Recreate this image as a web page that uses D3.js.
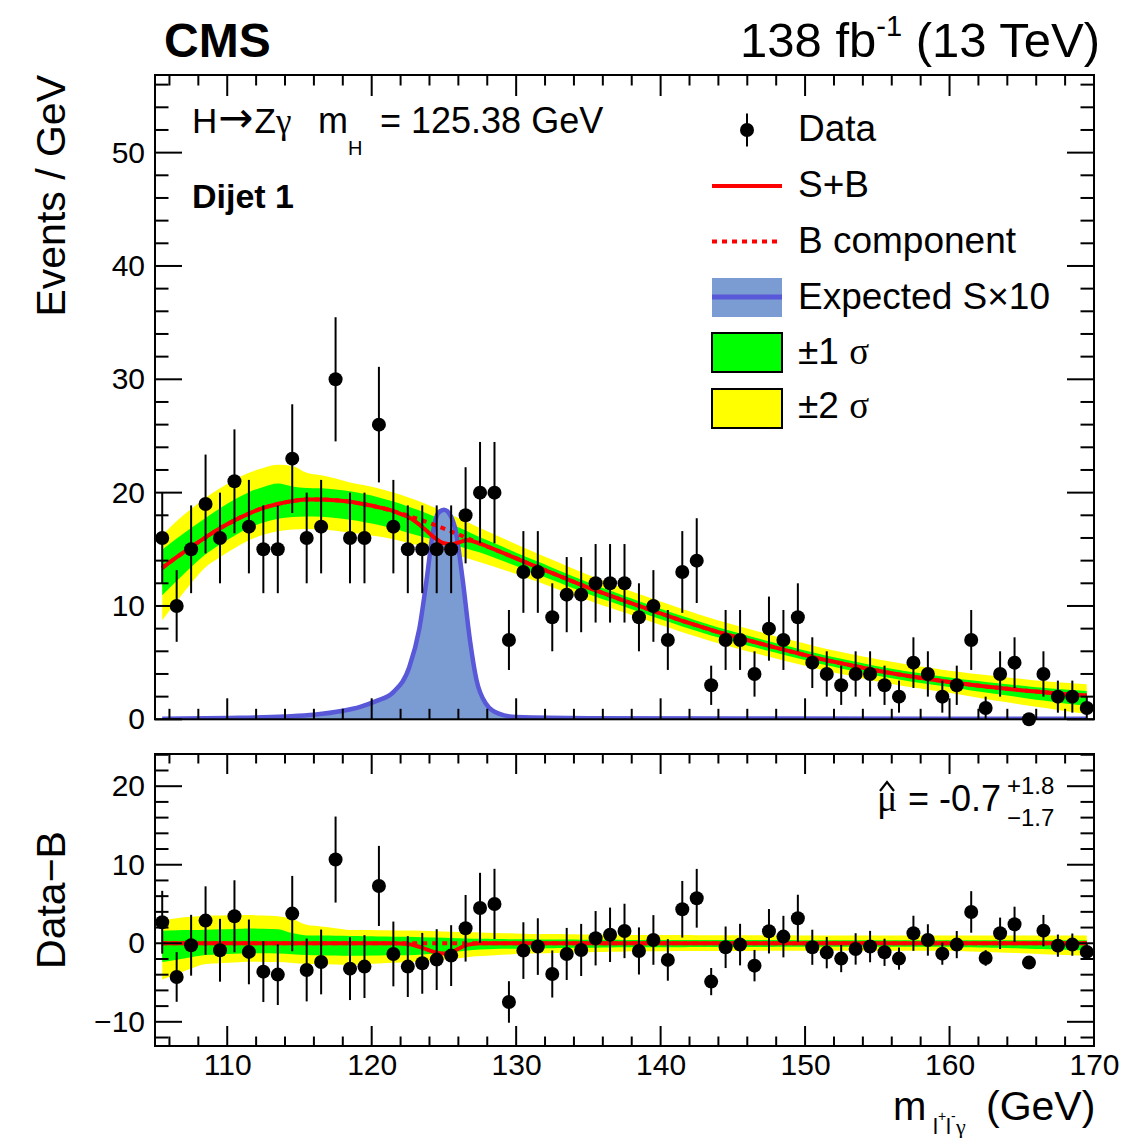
<!DOCTYPE html>
<html><head><meta charset="utf-8">
<script src="https://cdn.jsdelivr.net/npm/d3@7"></script>
<style>
body{margin:0;background:#fff}
svg{display:block}
text{font-family:"Liberation Sans",Arial,Helvetica,sans-serif;fill:#000}
.serif{font-family:"Liberation Serif","DejaVu Serif",serif}
</style>
</head><body>
<svg id="c" width="1127" height="1138"></svg>
<script>
// ---------------- data ----------------
const binCenters = [105.5,106.5,107.5,108.5,109.5,110.5,111.5,112.5,113.5,114.5,
  115.5,116.5,117.5,118.5,119.5,120.5,121.5,122.5,123.5,124.5,
  125.5,126.5,127.5,128.5,129.5,130.5,131.5,132.5,133.5,134.5,
  135.5,136.5,137.5,138.5,139.5,140.5,141.5,142.5,143.5,144.5,
  145.5,146.5,147.5,148.5,149.5,150.5,151.5,152.5,153.5,154.5,
  155.5,156.5,157.5,158.5,159.5,160.5,161.5,162.5,163.5,164.5,
  165.5,166.5,167.5,168.5,169.5];
const dataCounts = [16,10,15,19,16,21,17,15,15,23,
  16,17,30,16,16,26,17,15,15,15,
  15,18,20,20,7,13,13,9,11,11,
  12,12,12,9,10,7,13,14,3,7,
  7,4,8,7,9,5,4,3,4,4,
  3,2,5,4,2,3,7,1,4,5,
  0,4,2,2,1];
const residuals = [2.68,-4.29,-0.25,2.89,-0.89,3.44,-1.10,-3.61,-3.99,3.78,
  -3.40,-2.38,10.66,-3.23,-2.97,7.30,-1.36,-2.97,-2.55,-2.08,
  -1.57,1.91,4.50,5.01,-7.47,-0.93,-0.42,-3.91,-1.36,-0.85,
  0.64,1.08,1.57,-0.98,0.42,-2.12,4.33,5.73,-4.88,-0.51,
  -0.17,-2.85,1.53,0.85,3.18,-0.51,-1.19,-1.95,-0.72,-0.42,
  -1.15,-1.95,1.27,0.42,-1.32,-0.17,3.99,-1.87,1.27,2.42,
  -2.46,1.61,-0.30,-0.17,-1.10];
// background component at bin centers
const bkg = [13.35,14.3,15.2,16.05,16.85,17.55,18.15,18.65,19.0,19.25,
  19.4,19.4,19.33,19.2,18.97,18.7,18.37,17.97,17.55,17.08,
  16.57,16.05,15.5,14.99,14.47,13.93,13.42,12.9,12.38,11.87,
  11.38,10.92,10.45,10.0,9.56,9.12,8.69,8.28,7.88,7.51,
  7.16,6.82,6.48,6.15,5.83,5.51,5.21,4.94,4.68,4.42,
  4.18,3.96,3.75,3.56,3.38,3.21,3.05,2.9,2.76,2.63,
  2.5,2.39,2.28,2.18,2.09];
// S+B curve where it departs from B (upper panel)
const sbDipX = [121.5,122.0,122.6,123.1,123.6,124.3,125.0,125.55,126.0,126.6,127.5];
const sbDipY = [18.37,18.12,17.8,17.37,16.86,16.08,15.53,15.45,15.6,15.8,15.5];
// S+B - B (lower panel)
const dipX = [105.5,121.5,122.6,123.6,124.3,125.0,125.55,126.0,126.6,127.5,169.5];
const dipY = [0,0,-0.13,-0.64,-1.1,-1.3,-1.1,-0.7,-0.2,0,0];
// expected signal x10
const sigX = [105.5,110,114,116,118,119.2,120.3,121.5,122.6,123.3,123.8,124.25,124.6,125.0,125.4,125.8,126.3,126.8,127.25,127.9,128.8,130,135,145,160,169.5];
const sigY = [0.05,0.12,0.25,0.4,0.75,1.1,1.6,2.4,4.6,8.0,12.3,16.6,18.2,18.5,18.1,16.7,12.3,7.0,3.5,1.4,0.5,0.2,0.1,0.07,0.05,0.04];
// uncertainty band offsets (relative to B)
const bandX = [105.5,106.5,108.3,111.6,113.5,114.5,115.5,118.5,123.1,127.7,131,137.8,150,160,164,169.5];
const band2Up = [2.9,3.2,3.5,3.6,3.45,3.1,2.35,1.7,1.6,1.36,1.2,1.06,1.0,1.0,1.0,1.0];
const band2Dn = [-4.6,-3.9,-2.65,-2.35,-2.4,-2.5,-2.6,-2.75,-2.35,-1.6,-1.3,-1.02,-0.95,-0.95,-1.2,-1.6];
const band1Up = [1.6,1.65,1.7,1.9,1.8,1.3,1.0,0.93,0.8,0.55,0.5,0.42,0.4,0.4,0.4,0.4];
const band1Dn = [-2.4,-2.1,-1.5,-1.27,-1.3,-1.4,-1.5,-1.6,-1.5,-0.76,-0.65,-0.51,-0.45,-0.45,-0.6,-0.9];
// axis ticks
const xMajor = [110,120,130,140,150,160,170];
const xMinor = [106,108,112,114,116,118,122,124,126,128,132,134,136,138,142,144,146,148,152,154,156,158,162,164,166,168];
const yUMajor = [0,10,20,30,40,50];
const yUMinor = [2,4,6,8,12,14,16,18,22,24,26,28,32,34,36,38,42,44,46,48,52,54,56];
const yLMajor = [-10,0,10,20];
const yLMinor = [-12,-8,-6,-4,-2,2,4,6,8,12,14,16,18,22,24];

// ---------------- colours ----------------
const C = {yellow:"#ffff00", green:"#00ff00", red:"#ff0000", sigFill:"#7b9bd3", sigLine:"#5858d8"};

// ---------------- layout ----------------
const svg = d3.select("#c");
const L = 155, R = 1094;
const U = {top:75, bot:719.3}, D = {top:754, bot:1046};
const x = d3.scaleLinear().domain([105,170]).range([L,R]);
const yU = d3.scaleLinear().domain([0,56.85]).range([U.bot,U.top]);
const yL = d3.scaleLinear().domain([-13.08,24.1]).range([D.bot,D.top]);

const defs = svg.append("defs");
defs.append("clipPath").attr("id","clipU").append("rect").attr("x",L).attr("y",U.top).attr("width",R-L).attr("height",U.bot-U.top);
defs.append("clipPath").attr("id","clipL").append("rect").attr("x",L).attr("y",D.top).attr("width",R-L).attr("height",D.bot-D.top);

const off = arr => d3.scaleLinear().domain(bandX).range(arr);
const o2u = off(band2Up), o2d = off(band2Dn), o1u = off(band1Up), o1d = off(band1Dn);
const rows = binCenters.map((m,i)=>({m, b:bkg[i], n:dataCounts[i], r:residuals[i]}));

// ---------------- upper panel ----------------
const gU = svg.append("g").attr("clip-path","url(#clipU)");
const areaU = (fu,fd) => d3.area().x(d=>x(d.m)).y0(d=>yU(d.b+fd(d.m))).y1(d=>yU(d.b+fu(d.m))).curve(d3.curveMonotoneX);
gU.append("path").datum(rows).attr("d",areaU(o2u,o2d)).attr("fill",C.yellow);
gU.append("path").datum(rows).attr("d",areaU(o1u,o1d)).attr("fill",C.green);

const sig = sigX.map((m,i)=>({m, v:sigY[i]}));
gU.append("path").datum(sig).attr("d",d3.area().x(d=>x(d.m)).y0(yU(0)).y1(d=>yU(d.v)).curve(d3.curveMonotoneX)).attr("fill",C.sigFill);
gU.append("path").datum(sig).attr("d",d3.line().x(d=>x(d.m)).y(d=>yU(d.v)).curve(d3.curveMonotoneX)).attr("fill","none").attr("stroke",C.sigLine).attr("stroke-width",4.5);

// S+B
const sbPts = rows.filter(d=>d.m<sbDipX[0]||d.m>sbDipX[sbDipX.length-1]).map(d=>({m:d.m,v:d.b}))
  .concat(sbDipX.map((m,i)=>({m,v:sbDipY[i]}))).sort((a,b)=>a.m-b.m);
const lineU = d3.line().x(d=>x(d.m)).y(d=>yU(d.v)).curve(d3.curveMonotoneX);
gU.append("path").datum(rows.map(d=>({m:d.m,v:d.b}))).attr("d",lineU).attr("fill","none").attr("stroke",C.red).attr("stroke-width",4).attr("stroke-dasharray","5,5");
gU.append("path").datum(sbPts).attr("d",lineU).attr("fill","none").attr("stroke",C.red).attr("stroke-width",4);

// ---------------- lower panel ----------------
const gL = svg.append("g").attr("clip-path","url(#clipL)");
const areaL = (fu,fd) => d3.area().x(d=>x(d.m)).y0(d=>yL(fd(d.m))).y1(d=>yL(fu(d.m))).curve(d3.curveMonotoneX);
gL.append("path").datum(rows).attr("d",areaL(o2u,o2d)).attr("fill",C.yellow);
gL.append("path").datum(rows).attr("d",areaL(o1u,o1d)).attr("fill",C.green);
const lineL = d3.line().x(d=>x(d.m)).y(d=>yL(d.v)).curve(d3.curveMonotoneX);
gL.append("path").datum([{m:105.5,v:0},{m:169.5,v:0}]).attr("d",lineL).attr("fill","none").attr("stroke",C.red).attr("stroke-width",4).attr("stroke-dasharray","5,5");
gL.append("path").datum(dipX.map((m,i)=>({m,v:dipY[i]}))).attr("d",lineL).attr("fill","none").attr("stroke",C.red).attr("stroke-width",4);

// ---------------- frames & axes ----------------
function frame(top,bot){
  svg.append("rect").attr("x",L).attr("y",top).attr("width",R-L).attr("height",bot-top)
    .attr("fill","none").attr("stroke","#000").attr("stroke-width",2);
}
frame(U.top,U.bot); frame(D.top,D.bot);

function ticksX(yPos, dir, len, vals){ // dir: -1 up, +1 down
  svg.append("g").selectAll("line").data(vals).join("line")
    .attr("x1",d=>x(d)).attr("x2",d=>x(d)).attr("y1",yPos).attr("y2",yPos+dir*len)
    .attr("stroke","#000").attr("stroke-width",2);
}
function ticksY(y, xPos, dir, len, vals){
  svg.append("g").selectAll("line").data(vals).join("line")
    .attr("y1",d=>y(d)).attr("y2",d=>y(d)).attr("x1",xPos).attr("x2",xPos+dir*len)
    .attr("stroke","#000").attr("stroke-width",2);
}
// upper
ticksX(U.bot,-1,21,xMajor); ticksX(U.bot,-1,10.5,xMinor);
ticksX(U.top,1,21,xMajor); ticksX(U.top,1,10.5,xMinor);
ticksY(yU,L,1,27,yUMajor); ticksY(yU,L,1,13.5,yUMinor);
ticksY(yU,R,-1,27,yUMajor); ticksY(yU,R,-1,13.5,yUMinor);
// lower
ticksX(D.bot,-1,20,xMajor); ticksX(D.bot,-1,9.5,xMinor);
ticksX(D.top,1,20,xMajor); ticksX(D.top,1,9.5,xMinor);
ticksY(yL,L,1,27,yLMajor); ticksY(yL,L,1,13.5,yLMinor);
ticksY(yL,R,-1,27,yLMajor); ticksY(yL,R,-1,13.5,yLMinor);

// tick labels through d3 axes (no tick lines)
const fmt = d3.format("d");
const axU = svg.append("g").attr("transform",`translate(${L},0)`)
  .call(d3.axisLeft(yU).tickValues(yUMajor).tickSize(0).tickPadding(10).tickFormat(fmt));
const axL = svg.append("g").attr("transform",`translate(${L},0)`)
  .call(d3.axisLeft(yL).tickValues(yLMajor).tickSize(0).tickPadding(10).tickFormat(fmt));
const axX = svg.append("g").attr("transform",`translate(0,${D.bot})`)
  .call(d3.axisBottom(x).tickValues(xMajor).tickSize(0).tickPadding(8).tickFormat(fmt));
[axU,axL,axX].forEach(a=>{a.select(".domain").remove();
  a.selectAll("text").attr("font-size",30).attr("font-family","'Liberation Sans',Arial,sans-serif").attr("fill","#000");});

// ---------------- data points ----------------
function points(yS, valFn){
  const gp = svg.append("g");
  gp.selectAll("line").data(rows.filter(d=>d.n>0)).join("line")
    .attr("x1",d=>x(d.m)).attr("x2",d=>x(d.m))
    .attr("y1",d=>yS(valFn(d)-Math.sqrt(d.n))).attr("y2",d=>yS(valFn(d)+Math.sqrt(d.n)))
    .attr("stroke","#000").attr("stroke-width",2);
  gp.selectAll("circle").data(rows).join("circle")
    .attr("cx",d=>x(d.m)).attr("cy",d=>yS(valFn(d))).attr("r",7).attr("fill","#000");
}
points(yU, d=>d.n);
points(yL, d=>d.r);

// ---------------- legend ----------------
const lg = svg.append("g");
const lx0 = 712, lx1 = 782, tx = 798;
lg.append("line").attr("x1",747).attr("x2",747).attr("y1",113.5).attr("y2",146.5).attr("stroke","#000").attr("stroke-width",2);
lg.append("circle").attr("cx",747).attr("cy",130).attr("r",7).attr("fill","#000");
lg.append("line").attr("x1",lx0).attr("x2",lx1).attr("y1",186).attr("y2",186).attr("stroke",C.red).attr("stroke-width",4);
lg.append("line").attr("x1",lx0).attr("x2",lx1).attr("y1",241.5).attr("y2",241.5).attr("stroke",C.red).attr("stroke-width",4).attr("stroke-dasharray","5,5");
lg.append("rect").attr("x",lx0).attr("y",278).attr("width",lx1-lx0).attr("height",39).attr("fill",C.sigFill);
lg.append("line").attr("x1",lx0).attr("x2",lx1).attr("y1",297).attr("y2",297).attr("stroke",C.sigLine).attr("stroke-width",5);
lg.append("rect").attr("x",lx0).attr("y",333).attr("width",lx1-lx0).attr("height",39).attr("fill",C.green).attr("stroke","#000").attr("stroke-width",2);
lg.append("rect").attr("x",lx0).attr("y",389).attr("width",lx1-lx0).attr("height",39).attr("fill",C.yellow).attr("stroke","#000").attr("stroke-width",2);
const lt = (y,s)=>lg.append("text").attr("x",tx).attr("y",y).attr("font-size",37).text(s);
lt(141,"Data"); lt(197,"S+B"); lt(253,"B component"); lt(309,"Expected S\u00d710");
const s1 = lg.append("text").attr("x",tx).attr("y",364).attr("font-size",37);
s1.append("tspan").text("\u00b11 "); s1.append("tspan").attr("class","serif").text("\u03c3");
const s2 = lg.append("text").attr("x",tx).attr("y",418).attr("font-size",37);
s2.append("tspan").text("\u00b12 "); s2.append("tspan").attr("class","serif").text("\u03c3");

// ---------------- texts ----------------
svg.append("text").attr("x",164).attr("y",57).attr("font-size",48).attr("font-weight","bold").text("CMS");
const lumi = svg.append("text").attr("x",1100).attr("y",57).attr("font-size",49).attr("text-anchor","end");
lumi.append("tspan").text("138 fb");
lumi.append("tspan").attr("font-size",29).attr("dy",-21).text("-1");
lumi.append("tspan").attr("dy",21).text(" (13 TeV)");

const t1 = svg.append("text").attr("x",192).attr("y",133).attr("font-size",35);
t1.append("tspan").text("H");
t1.append("tspan").attr("font-family","'DejaVu Sans',sans-serif").attr("font-size",42).attr("dx",1).attr("dy",-1).text("\u2192");
t1.append("tspan").attr("dx",1).attr("dy",1).text("Z");
t1.append("tspan").attr("class","serif").text("\u03b3");
svg.append("text").attr("x",318).attr("y",133).attr("font-size",36).text("m");
svg.append("text").attr("x",348).attr("y",155).attr("font-size",20).text("H");
svg.append("text").attr("x",380).attr("y",133).attr("font-size",36).text("= 125.38 GeV");
svg.append("text").attr("x",192).attr("y",208).attr("font-size",34).attr("font-weight","bold").text("Dijet 1");

// y titles
svg.append("text").attr("transform","translate(65,75) rotate(-90)").attr("text-anchor","end").attr("font-size",41).text("Events / GeV");
svg.append("text").attr("transform","translate(65,900) rotate(-90)").attr("text-anchor","middle").attr("font-size",41).text("Data\u2212B");

// x title
svg.append("text").attr("x",893).attr("y",1120).attr("font-size",40).text("m");
svg.append("text").attr("x",933).attr("y",1134).attr("font-size",22).text("l");
svg.append("text").attr("x",938).attr("y",1121).attr("font-size",14).text("+");
svg.append("text").attr("x",946).attr("y",1134).attr("font-size",22).text("l");
svg.append("text").attr("x",951).attr("y",1121).attr("font-size",14).text("-");
svg.append("text").attr("x",956).attr("y",1134).attr("font-size",22).attr("class","serif").text("\u03b3");
svg.append("text").attr("x",986).attr("y",1120).attr("font-size",41).text("(GeV)");

// mu hat: mu as text, circumflex accent drawn above it
svg.append("text").attr("x",877).attr("y",811).attr("font-size",38).attr("class","serif").text("\u03bc");
svg.append("path").attr("d","M880,791 L887,782 L894,791").attr("fill","none").attr("stroke","#000").attr("stroke-width",2.2);
svg.append("text").attr("x",908).attr("y",811).attr("font-size",36).text("= -0.7");
svg.append("text").attr("x",1007).attr("y",794).attr("font-size",24).text("+1.8");
svg.append("text").attr("x",1007).attr("y",826).attr("font-size",24).text("\u22121.7");
</script>
</body></html>
